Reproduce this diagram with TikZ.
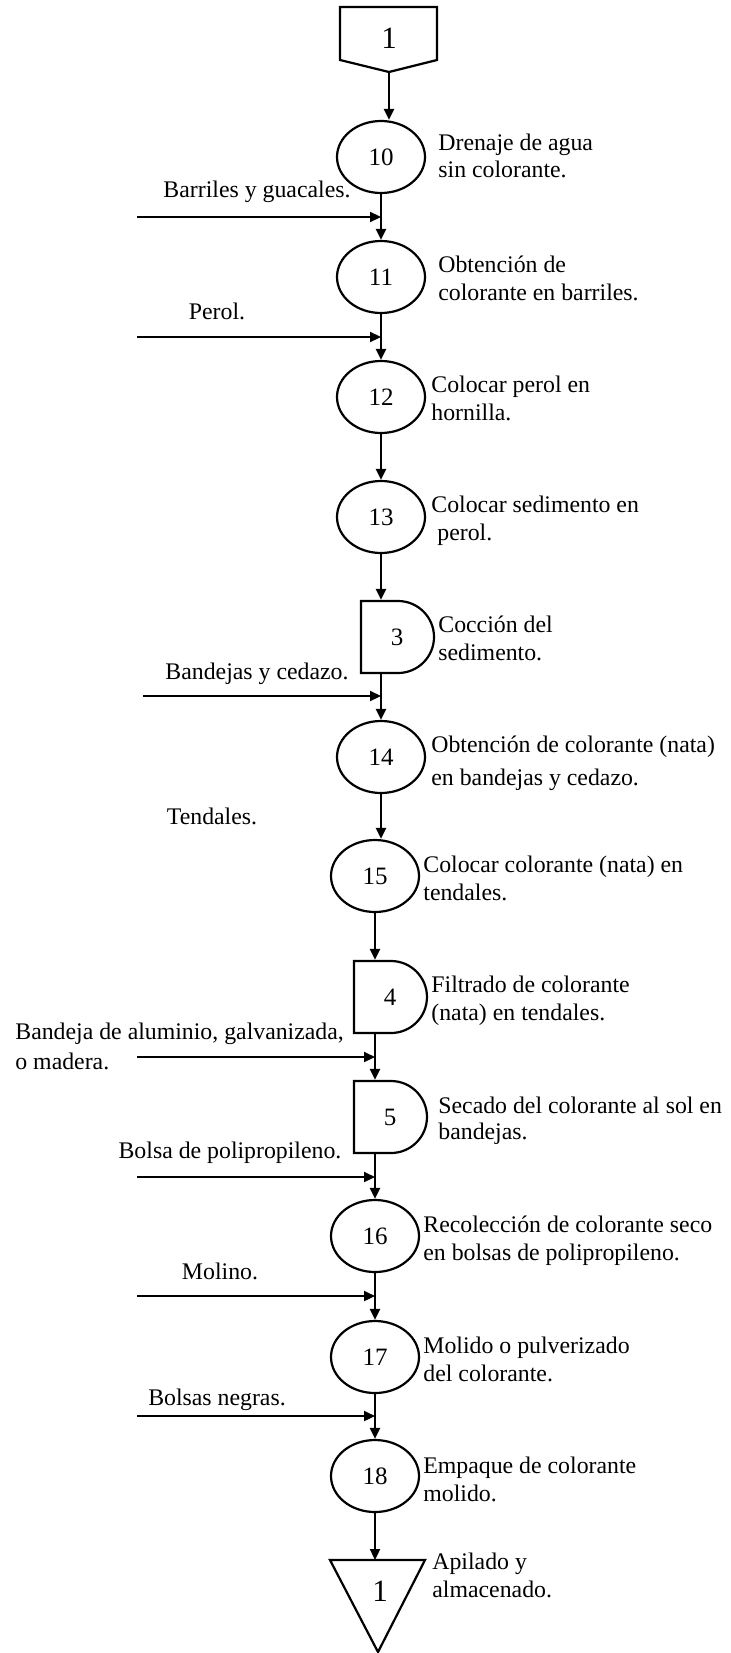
\documentclass[tikz,border=0pt]{standalone}
\usepackage{fontspec}
\setmainfont{Liberation Serif}
\usetikzlibrary{shapes.geometric, shapes.misc, arrows.meta}

\begin{document}
\begin{tikzpicture}[x=0.5pt, y=-0.5pt,
    every node/.style={font=\fontsize{11.9}{14}\selectfont},
    op/.style={ellipse, draw, line width=1.1pt, minimum width=44pt,
        minimum height=36pt, inner sep=0pt, font=\fontsize{12.5}{14}\selectfont},
    espera/.style={rounded rectangle, rounded rectangle left arc=none, draw,
        line width=1.1pt, minimum width=36.5pt, minimum height=36pt,
        inner sep=0pt, font=\fontsize{12.5}{14}\selectfont},
    conector/.style={font=\fontsize{15.5}{16}\selectfont},
    flujo/.style={line width=1.1pt, -{Triangle[length=5.5pt, width=5pt]}},
    nota/.style={anchor=base west, align=left, inner sep=0pt},
    insumo/.style={anchor=base}]

    \useasboundingbox (0,0) rectangle (730,1653);

    % Connector at the top
    \coordinate (c1p) at (389,72);
    \draw[line width=1.1pt] (340,7) -- (437,7) -- (437,60) -- (c1p) -- (340,60) -- cycle;
    \node[conector] (c1) at (389,38) {1};

    % Operations and delays
    \node[op] (e10) at (381,157) {10};
    \node[op] (e11) at (381,277) {11};
    \node[op] (e12) at (381,397) {12};
    \node[op] (e13) at (381,517) {13};
    \node[espera] (d3) at (397,637) {3};
    \node[op] (e14) at (381,757) {14};
    \node[op] (e15) at (375,876) {15};
    \node[espera] (d4) at (390,997) {4};
    \node[espera] (d5) at (390,1117) {5};
    \node[op] (e16) at (375,1236) {16};
    \node[op] (e17) at (375,1357) {17};
    \node[op] (e18) at (375,1476) {18};

    % Storage triangle
    \coordinate (tl) at (330,1560);
    \coordinate (tr) at (425,1560);
    \coordinate (tb) at (378,1652);
    \draw[line width=1.1pt] (tl) -- (tr) -- (tb) -- cycle;
    \node[conector] (t1) at (380,1591) {1};

    % Main flow
    \draw[flujo] (c1p) -- (c1p |- e10.north);
    \draw[flujo] (e10) -- (e11);
    \draw[flujo] (e11) -- (e12);
    \draw[flujo] (e12) -- (e13);
    \draw[flujo] (e13.south) -- (e13.south |- d3.north);
    \draw[flujo] (d3.south -| e14.north) -- (e14.north);
    \draw[flujo] (e14.south) -- (e14.south |- e15.north);
    \draw[flujo] (e15.south) -- (e15.south |- d4.north);
    \draw[flujo] (d4.south -| e15.south) -- (d5.north -| e15.south);
    \draw[flujo] (d5.south -| e16.north) -- (e16.north);
    \draw[flujo] (e16) -- (e17);
    \draw[flujo] (e17) -- (e18);
    \draw[flujo] (e18.south) -- (e18.south |- tl);

    % Inputs from the left
    \coordinate (m1) at (137,217);
    \coordinate (m2) at (137,337);
    \coordinate (m3) at (143,696);
    \coordinate (m4) at (137,1057);
    \coordinate (m5) at (137,1177);
    \coordinate (m6) at (137,1296);
    \coordinate (m7) at (137,1416);
    \draw[flujo] (m1) -- (m1 -| e10.south);
    \draw[flujo] (m2) -- (m2 -| e11.south);
    \draw[flujo] (m3) -- (m3 -| e14.north);
    \draw[flujo] (m4) -- (m4 -| e15.south);
    \draw[flujo] (m5) -- (m5 -| e16.north);
    \draw[flujo] (m6) -- (m6 -| e16.south);
    \draw[flujo] (m7) -- (m7 -| e17.south);

    \node[insumo] (i1) at (257,198) {Barriles y guacales.};
    \node[insumo] (i2) at (217,319) {Perol.};
    \node[insumo] (i3) at (257,679) {Bandejas y cedazo.};
    \node[insumo] (i4) at (212,824) {Tendales.};
    \node[nota, font=\fontsize{11.9}{15}\selectfont] (i5) at (15,1069)
        {Bandeja de aluminio, galvanizada,\\o madera.};
    \node[insumo] (i6) at (230,1158) {Bolsa de polipropileno.};
    \node[insumo] (i7) at (220,1279) {Molino.};
    \node[insumo] (i8) at (217,1405) {Bolsas negras.};

    % Descriptions (placed at the baseline of their last line)
    \node[nota, font=\fontsize{11.9}{13.5}\selectfont] (n10) at (438,178) {Drenaje de agua\\sin colorante.};
    \node[nota] (n11) at (438,300) {Obtención de\\colorante en barriles.};
    \node[nota] (n12) at (431,420) {Colocar perol en\\hornilla.};
    \node[nota] (n13) at (431,540) {Colocar sedimento en\\\hspace{3pt}perol.};
    \node[nota] (n3) at (438,660) {Cocción del\\sedimento.};
    \node[nota, font=\fontsize{11.9}{16.5}\selectfont] (n14) at (431,785)
        {Obtención de colorante (nata)\\en bandejas y cedazo.};
    \node[nota] (n15) at (423,900) {Colocar colorante (nata) en\\tendales.};
    \node[nota] (n4) at (431,1020) {Filtrado de colorante\\(nata) en tendales.};
    \node[nota, font=\fontsize{11.9}{13}\selectfont] (n5) at (438,1139)
        {Secado del colorante al sol en\\bandejas.};
    \node[nota] (n16) at (423,1260) {Recolección de colorante seco\\en bolsas de polipropileno.};
    \node[nota] (n17) at (423,1381) {Molido o pulverizado\\del colorante.};
    \node[nota] (n18) at (423,1501) {Empaque de colorante\\molido.};
    \node[nota] (nt) at (432,1597) {Apilado y\\almacenado.};

\end{tikzpicture}
\end{document}
